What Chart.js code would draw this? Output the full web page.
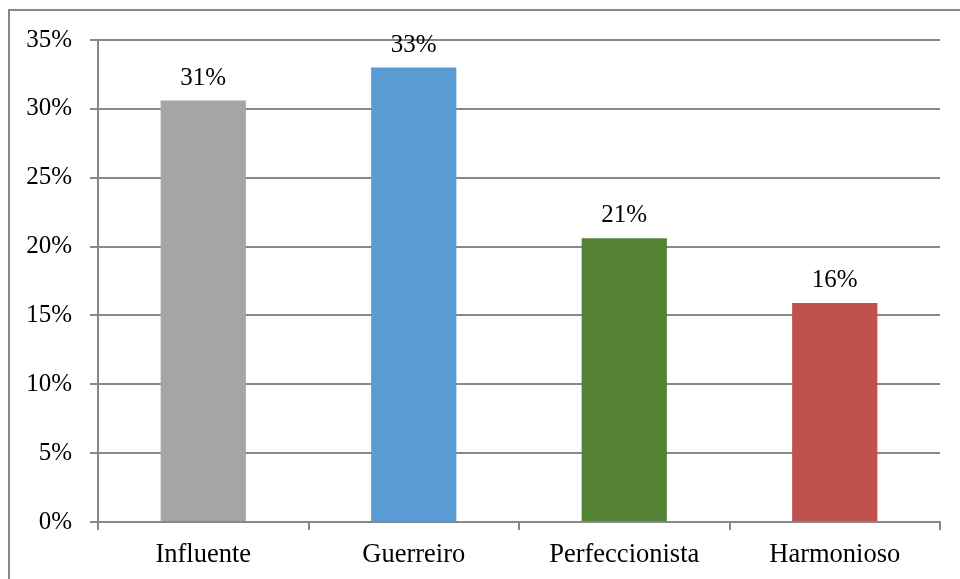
<!DOCTYPE html>
<html>
<head>
<meta charset="utf-8">
<script src="https://cdn.jsdelivr.net/npm/chart.js@4/dist/chart.umd.min.js"></script>
<style>
  html, body { margin: 0; padding: 0; background: #fff; }
  #wrap { position: relative; width: 960px; height: 579px; }
  #frame { position: absolute; left: 8px; top: 9px; width: 960px; height: 600px;
           border-left: 2px solid #888; border-top: 2px solid #888; box-sizing: border-box; }
  canvas { position: absolute; left: 0; top: 0; }
</style>
</head>
<body>
<div id="wrap">
  <div id="frame"></div>
  <canvas id="chart" width="960" height="579"></canvas>
</div>
<script>
// Share of respondents per profile type
const categories = ['Influente', 'Guerreiro', 'Perfeccionista', 'Harmonioso'];
const shares = [30.6, 33.0, 20.6, 15.9];
const barColors = ['#A5A5A5', '#5B9BD5', '#548235', '#C0504D'];
const yTicks = [0, 5, 10, 15, 20, 25, 30, 35];

const FONT = 'Liberation Serif, "Times New Roman", serif';
const AXIS = '#888888';

// Percentage labels above each bar
const valueLabels = {
  id: 'valueLabels',
  afterDatasetsDraw(chart) {
    const { ctx } = chart;
    const meta = chart.getDatasetMeta(0);
    ctx.save();
    ctx.font = '25px ' + FONT;
    ctx.fillStyle = '#000';
    ctx.textAlign = 'center';
    ctx.textBaseline = 'alphabetic';
    meta.data.forEach((bar, i) => {
      ctx.fillText(Math.round(shares[i]) + '%', bar.x, bar.y - 16);
    });
    ctx.restore();
  }
};

new Chart(document.getElementById('chart'), {
  type: 'bar',
  data: {
    labels: categories,
    datasets: [{
      data: shares,
      backgroundColor: barColors,
      borderWidth: 0,
      categoryPercentage: 0.81,
      barPercentage: 0.5
    }]
  },
  options: {
    responsive: false,
    animation: false,
    layout: { padding: { left: 0, top: 40, right: 20, bottom: 0 } },
    plugins: { legend: { display: false }, tooltip: { enabled: false } },
    scales: {
      x: {
        grid: { drawOnChartArea: false, drawTicks: true, tickLength: 8, color: AXIS, lineWidth: 2, offset: true },
        border: { color: AXIS, width: 2 },
        ticks: { color: '#000', font: { family: FONT, size: 26.5 }, padding: 9 },
        afterFit(scale) { scale.height = 57; }
      },
      y: {
        min: 0,
        max: 35,
        afterBuildTicks(scale) { scale.ticks = yTicks.map(v => ({ value: v })); },
        grid: { color: AXIS, lineWidth: 2, tickLength: 8 },
        border: { color: AXIS, width: 2 },
        ticks: {
          color: '#000',
          font: { family: FONT, size: 25 },
          padding: 18,
          callback: v => v + '%'
        },
        afterFit(scale) { scale.width = 98; }
      }
    }
  },
  plugins: [valueLabels]
});
</script>
</body>
</html>
